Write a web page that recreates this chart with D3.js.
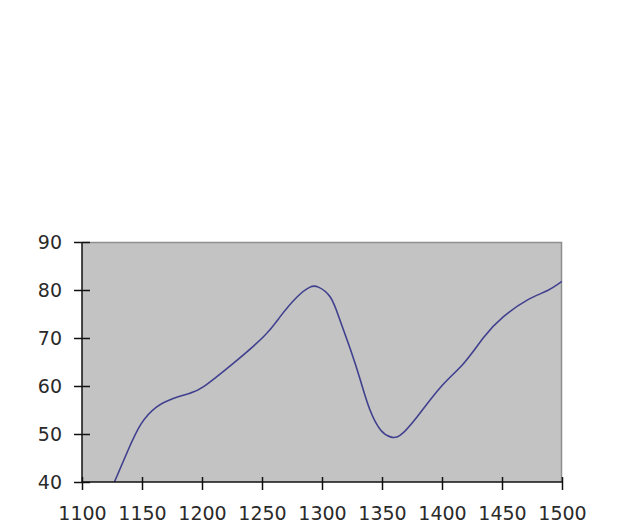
<!DOCTYPE html>
<html>
<head>
<meta charset="utf-8">
<script src="https://cdn.jsdelivr.net/npm/d3@7"></script>
<style>
  html, body { margin: 0; padding: 0; background: #ffffff; }
  svg { display: block; }
</style>
</head>
<body>
<svg id="chart" width="624" height="524"></svg>
<script>
// ---- data ----
const xValues = [1127, 1138, 1149, 1162, 1176, 1190, 1201, 1224, 1251, 1265, 1279, 1290, 1297, 1307, 1315, 1324, 1332, 1340, 1349, 1357, 1365, 1379, 1399, 1418, 1435, 1451, 1471, 1488, 1500];
const yValues = [40, 46.4, 52.0, 55.6, 57.4, 58.5, 59.8, 64.3, 70.2, 74.4, 78.5, 80.6, 80.6, 78.5, 73.7, 67.4, 61.2, 55, 50.8, 49.4, 49.7, 53.5, 59.8, 64.7, 70.2, 74.4, 77.9, 79.9, 81.8];
const xTicks = [1100, 1150, 1200, 1250, 1300, 1350, 1400, 1450, 1500];
const yTicks = [40, 50, 60, 70, 80, 90];

const margin = { left: 82, top: 242 };
const width = 480, height = 240;

const svg = d3.select("#chart");
const g = svg.append("g").attr("transform", `translate(${margin.left},${margin.top})`);

const x = d3.scaleLinear().domain([1100, 1500]).range([0, width]);
const y = d3.scaleLinear().domain([40, 90]).range([height, 0]);

// plot area
g.append("rect")
  .attr("x", 0).attr("y", 0).attr("width", width).attr("height", height)
  .attr("fill", "#c3c3c3");
// top & right borders
g.append("path")
  .attr("d", `M0,0.5H${width - 0.5}V${height}`)
  .attr("fill", "none").attr("stroke", "#8e8e8e").attr("stroke-width", 1.5);

// clip
svg.append("defs").append("clipPath").attr("id", "clip")
  .append("rect").attr("x", 0).attr("y", 0).attr("width", width).attr("height", height);

const pts = xValues.map((v, i) => [v, yValues[i]]);
const line = d3.line().x(d => x(d[0])).y(d => y(d[1])).curve(d3.curveNatural);
g.append("path")
  .attr("clip-path", "url(#clip)")
  .attr("d", line(pts))
  .attr("fill", "none")
  .attr("stroke", "#40408f")
  .attr("stroke-width", 1.6);

const font = "'DejaVu Sans', Verdana, sans-serif";

// y axis
const yAxis = g.append("g").call(d3.axisLeft(y).tickValues(yTicks).tickSize(8).tickFormat(d3.format("d")));
yAxis.select(".domain").attr("d", `M0,0V${height}`).attr("stroke", "#111").attr("stroke-width", 1.5);
yAxis.selectAll(".tick line").attr("x1", -8).attr("x2", 8).attr("stroke", "#111").attr("stroke-width", 1.5);
yAxis.selectAll(".tick text")
  .attr("x", -20).attr("dy", "0.36em")
  .attr("fill", "#2a2a2a").style("font-family", font).style("font-size", "19px");

// x axis
const xAxis = g.append("g").attr("transform", `translate(0,${height})`)
  .call(d3.axisBottom(x).tickValues(xTicks).tickSize(8).tickFormat(d3.format("d")));
xAxis.select(".domain").attr("d", `M0,0H${width}`).attr("stroke", "#111").attr("stroke-width", 1.5);
xAxis.selectAll(".tick line").attr("y1", -5).attr("y2", 8).attr("stroke", "#111").attr("stroke-width", 1.5);
xAxis.selectAll(".tick text")
  .attr("y", 38).attr("dy", null)
  .attr("fill", "#2a2a2a").style("font-family", font).style("font-size", "19px");
</script>
</body>
</html>
